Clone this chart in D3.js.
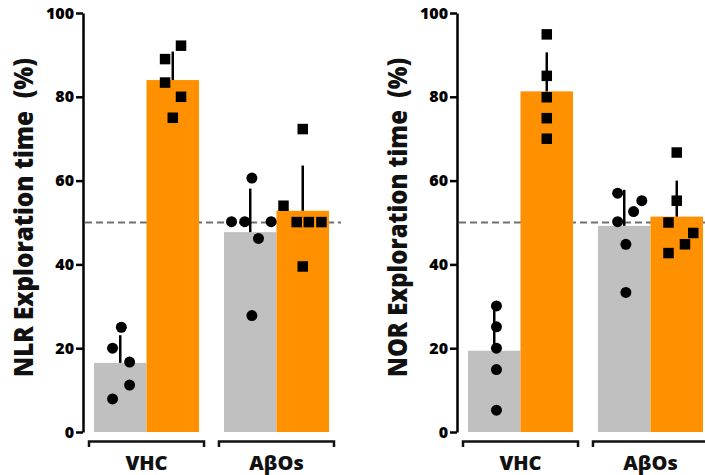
<!DOCTYPE html>
<html>
<head>
<meta charset="utf-8">
<script src="https://cdn.jsdelivr.net/npm/d3@7"></script>
<style>
  body { margin: 0; background: #fff; }
  svg { display: block; font-family: "Open Sans", sans-serif; }
</style>
</head>
<body>
<div id="chart"></div>
<script>
// Groups and conditions (gray = control object, orange = test object)
const groups = ['VHC', 'AβOs'];
const conditions = ['control', 'test'];
const chanceLevel = 50;
const yTicks = [0, 20, 40, 60, 80, 100];

// NLR panel: bar means and SD (one per group x condition)
const nlrMeans = [16.5, 84.0, 47.7, 52.8];
const nlrSD = [6.6, 6.8, 10.4, 10.8];
// NLR individual points (value, jitter in marker widths)
const nlrVhcCtrl = [[25, 0.1], [20, -0.7], [16.7, 0.85], [11.2, 0.85], [7.9, -0.7]];
const nlrVhcTest = [[92.2, 0.75], [89, -0.7], [83.4, -0.7], [80, 0.75], [75, 0]];
const nlrAbCtrl = [[50.2, -1.7], [50.2, -0.5], [50.2, 1.9], [60.6, 0.15], [46.2, 0.75], [27.8, 0.15]];
const nlrAbTest = [[54, -1.75], [50.1, -0.55], [50.1, 0.55], [50.1, 1.7], [72.3, 0], [39.5, 0]];

// NOR panel
const norMeans = [19.4, 81.3, 49.2, 51.4];
const norSD = [10.7, 9.3, 8.6, 8.6];
const norVhcCtrl = [[30.1, 0.2], [25.1, 0.2], [20, 0.2], [14.9, 0.2], [5.2, 0.2]];
const norVhcTest = [[94.9, 0], [85, 0], [79.9, 0], [74.9, 0], [70, 0]];
const norAbCtrl = [[57, -0.6], [55.2, 1.6], [52.6, 0.85], [50.2, -0.6], [44.8, 0.15], [33.3, 0.15]];
const norAbTest = [[66.7, 0], [55.2, 0], [50, -0.75], [47.5, 1.5], [44.8, 0.75], [42.7, -0.75]];

const colors = { control: '#c0c0c0', test: '#ff9100' };

const width = 705, height = 475;
const svg = d3.select('#chart').append('svg')
  .attr('width', width)
  .attr('height', height);

const y = d3.scaleLinear().domain([0, 100]).range([432, 13]);
const x0 = d3.scaleBand().domain(groups).range([6, 251]).paddingInner(0.115).paddingOuter(0);
const x1 = d3.scaleBand().domain(conditions).range([5, x0.bandwidth() - 5]);
const markerSize = 11;

function drawPanel(left, title, means, sds, points) {
  const g = svg.append('g').attr('transform', `translate(${left},0)`);

  const bars = [];
  groups.forEach((grp, gi) => {
    conditions.forEach((cond, ci) => {
      const k = gi * 2 + ci;
      bars.push({ grp, cond, mean: means[k], sd: sds[k], pts: points[k] });
    });
  });
  const cx = d => x0(d.grp) + x1(d.cond) + x1.bandwidth() / 2;

  // chance level line (behind bars)
  g.append('line')
    .attr('x1', 2).attr('x2', 258)
    .attr('y1', y(chanceLevel)).attr('y2', y(chanceLevel))
    .attr('stroke', '#707070')
    .attr('stroke-width', 2)
    .attr('stroke-dasharray', '7,4');

  g.selectAll('rect.bar')
    .data(bars)
    .join('rect')
    .attr('class', 'bar')
    .attr('x', d => x0(d.grp) + x1(d.cond))
    .attr('width', x1.bandwidth())
    .attr('y', d => y(d.mean))
    .attr('height', d => y(0) - y(d.mean))
    .attr('fill', d => colors[d.cond]);

  // error bars (upper SD only)
  g.selectAll('line.err')
    .data(bars)
    .join('line')
    .attr('class', 'err')
    .attr('x1', cx).attr('x2', cx)
    .attr('y1', d => y(d.mean))
    .attr('y2', d => y(d.mean + d.sd))
    .attr('stroke', '#000')
    .attr('stroke-width', 2.5);

  // individual points
  bars.forEach(b => {
    const c = cx(b);
    if (b.cond === 'control') {
      g.append('g').selectAll('circle')
        .data(b.pts)
        .join('circle')
        .attr('cx', d => c + d[1] * markerSize)
        .attr('cy', d => y(d[0]))
        .attr('r', markerSize / 2)
        .attr('fill', '#000');
    } else {
      const s = 10.5;
      g.append('g').selectAll('rect')
        .data(b.pts)
        .join('rect')
        .attr('x', d => c + d[1] * markerSize - s / 2)
        .attr('y', d => y(d[0]) - s / 2)
        .attr('width', s)
        .attr('height', s)
        .attr('fill', '#000');
    }
  });

  // y axis
  const axis = g.append('g')
    .call(d3.axisLeft(y).tickValues(yTicks).tickSize(7).tickSizeOuter(0).tickPadding(2));
  axis.select('.domain').attr('stroke', '#000').attr('stroke-width', 2.5);
  axis.selectAll('.tick line').attr('stroke', '#000').attr('stroke-width', 2.5);
  axis.selectAll('.tick text')
    .attr('fill', '#000')
    .style('font-family', '"Open Sans", sans-serif')
    .style('font-weight', '800')
    .style('font-size', '16px');

  // group brackets
  g.append('g').selectAll('path')
    .data(groups)
    .join('path')
    .attr('d', d => {
      const a = x0(d), b = x0(d) + x0.bandwidth();
      return `M${a},447V441.5H${b}V447`;
    })
    .attr('fill', 'none')
    .attr('stroke', '#111')
    .attr('stroke-width', 2.5);

  g.append('g').selectAll('text')
    .data(groups)
    .join('text')
    .attr('x', d => x0(d) + x0.bandwidth() / 2)
    .attr('y', 470)
    .attr('text-anchor', 'middle')
    .style('font-weight', '800')
    .style('font-size', '20px')
    .attr('fill', '#111')
    .text(d => d);

  // axis title
  g.append('text')
    .attr('transform', `translate(${-50},217.5) rotate(-90)`)
    .attr('text-anchor', 'middle')
    .attr('textLength', 319)
    .attr('lengthAdjust', 'spacingAndGlyphs')
    .style('font-weight', '800')
    .style('font-size', '26px')
    .style('white-space', 'pre')
    .attr('fill', '#111')
    .text(title);
}

drawPanel(83, 'NLR Exploration time  (%)', nlrMeans, nlrSD,
  [nlrVhcCtrl, nlrVhcTest, nlrAbCtrl, nlrAbTest]);
drawPanel(457, 'NOR Exploration time  (%)', norMeans, norSD,
  [norVhcCtrl, norVhcTest, norAbCtrl, norAbTest]);
</script>
</body>
</html>
